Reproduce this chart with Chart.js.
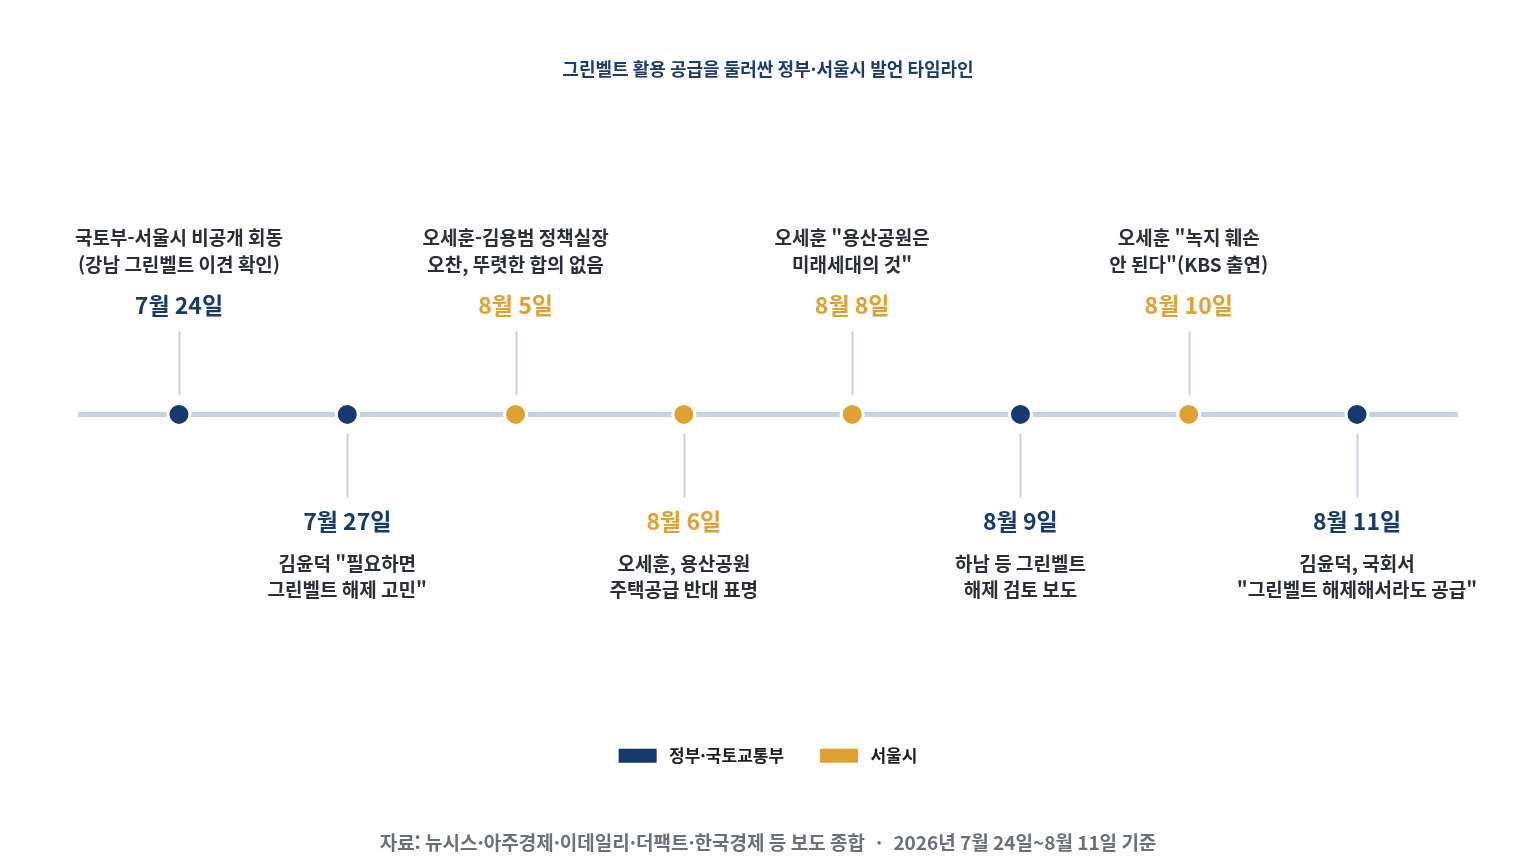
<!DOCTYPE html>
<html lang="ko">
<head>
<meta charset="utf-8">
<title>그린벨트 타임라인</title>
<script src="https://cdn.jsdelivr.net/npm/chart.js@4.4.1/dist/chart.umd.min.js"></script>
<style>
  html, body { margin: 0; padding: 0; background: #ffffff; }
  #wrap { width: 1536px; height: 864px; position: relative; }
</style>
</head>
<body>
<div id="wrap"><canvas id="timelineChart"></canvas></div>
<script>
// data
const dates = ['7월 24일', '7월 27일', '8월 5일', '8월 6일', '8월 8일', '8월 9일', '8월 10일', '8월 11일'];
const speakers = ['gov', 'gov', 'seoul', 'seoul', 'seoul', 'gov', 'seoul', 'gov'];
const descriptions = [
    ['국토부-서울시 비공개 회동', '(강남 그린벨트 이견 확인)'],
    ['김윤덕 "필요하면', '그린벨트 해제 고민"'],
    ['오세훈-김용범 정책실장', '오찬, 뚜렷한 합의 없음'],
    ['오세훈, 용산공원', '주택공급 반대 표명'],
    ['오세훈 "용산공원은', '미래세대의 것"'],
    ['하남 등 그린벨트', '해제 검토 보도'],
    ['오세훈 "녹지 훼손', '안 된다"(KBS 출연)'],
    ['김윤덕, 국회서', '"그린벨트 해제해서라도 공급"']
];
const seriesNames = { gov: '정부·국토교통부', seoul: '서울시' };

const NAVY = '#153a6b';
const GOLD = '#e0a032';
const RULE = '#c8d2df';
const TEXT = '#2b2e36';
const FONT = '"Noto Sans CJK KR", "Noto Sans", sans-serif';

const colorOf = key => key === 'gov' ? NAVY : GOLD;

function pointsFor(key) {
    const pts = [];
    speakers.forEach((s, i) => { if (s === key) pts.push({ x: i, y: 0 }); });
    return pts;
}

// baseline, connectors and labels
const timelinePlugin = {
    id: 'timeline',
    beforeDatasetsDraw(chart) {
        const { ctx, chartArea, scales: { x, y } } = chart;
        const y0 = y.getPixelForValue(0);
        ctx.save();
        ctx.strokeStyle = RULE;
        ctx.lineWidth = 5;
        ctx.beginPath();
        ctx.moveTo(chartArea.left, y0);
        ctx.lineTo(chartArea.right, y0);
        ctx.stroke();

        ctx.lineWidth = 2;
        dates.forEach((d, i) => {
            const px = Math.round(x.getPixelForValue(i)) + 0.5;
            const dir = i % 2 === 0 ? -1 : 1;
            ctx.beginPath();
            ctx.moveTo(px, y0 + dir * 19);
            ctx.lineTo(px, y0 + dir * 83);
            ctx.stroke();
        });
        ctx.restore();
    },
    afterDatasetsDraw(chart) {
        const { ctx, scales: { x, y } } = chart;
        const y0 = y.getPixelForValue(0);
        ctx.save();
        ctx.textAlign = 'center';
        ctx.textBaseline = 'middle';
        dates.forEach((d, i) => {
            const px = x.getPixelForValue(i);
            const up = i % 2 === 0;
            ctx.font = 'bold 23px ' + FONT;
            ctx.fillStyle = colorOf(speakers[i]);
            ctx.fillText(d, px, up ? y0 - 109 : y0 + 107);

            ctx.font = 'bold 19px ' + FONT;
            ctx.fillStyle = TEXT;
            descriptions[i].forEach((line, k) => {
                const ly = up ? y0 - 177 + k * 27 : y0 + 149 + k * 26;
                ctx.fillText(line, px, ly);
            });
        });
        ctx.restore();
    }
};

const ctx = document.getElementById('timelineChart').getContext('2d');

new Chart(ctx, {
    type: 'scatter',
    data: {
        datasets: ['gov', 'seoul'].map(key => ({
            label: seriesNames[key],
            data: pointsFor(key),
            backgroundColor: colorOf(key),
            borderColor: '#ffffff',
            borderWidth: 3,
            pointRadius: 11,
            pointHoverRadius: 11
        }))
    },
    options: {
        responsive: true,
        maintainAspectRatio: false,
        animation: false,
        layout: { padding: { left: 78, right: 78, top: 0, bottom: 0 } },
        scales: {
            x: { type: 'linear', min: -0.6, max: 7.6, display: false },
            y: { type: 'linear', min: -1, max: 1, display: false }
        },
        plugins: {
            title: {
                display: true,
                text: '그린벨트 활용 공급을 둘러싼 정부·서울시 발언 타임라인',
                color: '#1d3b6c',
                font: { family: FONT, size: 18, weight: 'bold' },
                padding: { top: 58, bottom: 38 }
            },
            legend: {
                position: 'bottom',
                labels: {
                    boxWidth: 38,
                    boxHeight: 14,
                    padding: 36,
                    color: '#1f1f1f',
                    font: { family: FONT, size: 17, weight: 'bold' },
                    generateLabels(chart) {
                        return Chart.defaults.plugins.legend.labels.generateLabels(chart)
                            .map(item => Object.assign(item, {
                                text: ' ' + item.text,
                                lineWidth: 0,
                                strokeStyle: 'transparent'
                            }));
                    }
                }
            },
            subtitle: {
                display: true,
                position: 'bottom',
                text: '자료: 뉴시스·아주경제·이데일리·더팩트·한국경제 등 보도 종합  ·  2026년 7월 24일~8월 11일 기준',
                color: '#6b6f78',
                font: { family: FONT, size: 19, weight: 'bold' },
                padding: { top: 57, bottom: 10 }
            },
            tooltip: { enabled: false }
        }
    },
    plugins: [timelinePlugin]
});
</script>
</body>
</html>
